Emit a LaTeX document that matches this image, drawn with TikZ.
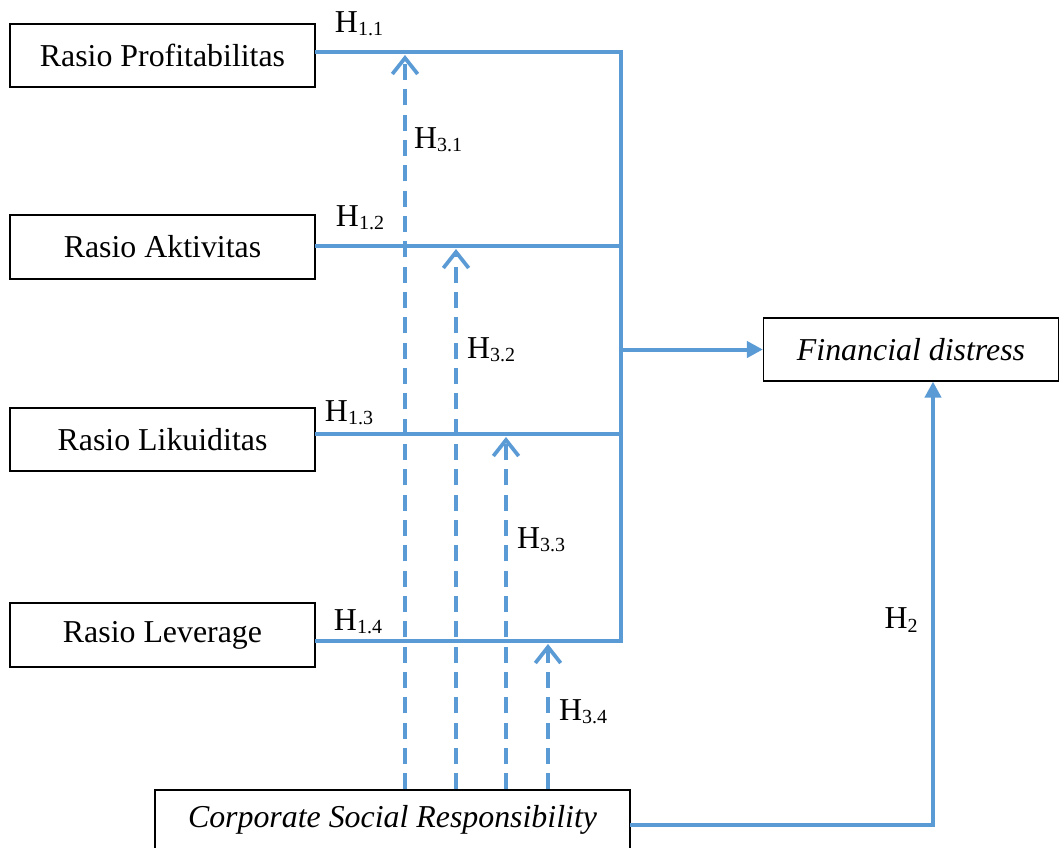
\documentclass[tikz,border=0pt]{standalone}
\usepackage{fontspec}
\setmainfont{Liberation Serif}
\usetikzlibrary{arrows.meta}
\definecolor{lblue}{HTML}{5B9BD5}
\newcommand{\Hsub}[1]{H\raisebox{-2.5pt}{\fontsize{15}{17}\selectfont #1}}
\begin{document}
\begin{tikzpicture}[x=0.75pt,y=-0.75pt,
  box/.style={draw=black,line width=0.9pt,inner sep=0pt,font=\fontsize{23.9}{28}\selectfont},
  conn/.style={draw=lblue,line width=3pt},
  solidarr/.style={conn,-{Triangle[length=12pt,width=12pt]}},
  dasharr/.style={conn,dash pattern=on 12pt off 7pt,-{Straight Barb[length=12pt,width=19pt,line width=2.8pt]}},
  hlab/.style={font=\fontsize{23.9}{28}\selectfont,inner sep=0pt}]
\clip (0,0) rectangle (1059,847);
\fill[white] (0,0) rectangle (1059,847);
% boxes
\node[box,minimum width=228.75pt,minimum height=47.25pt] (p) at (162.5,55.5) {Rasio Profitabilitas};
\node[box,minimum width=228.75pt,minimum height=48pt] (a) at (162.5,247) {Rasio Aktivitas};
\node[box,minimum width=228.75pt,minimum height=47.25pt] (l) at (162.5,439.5) {Rasio Likuiditas};
\node[box,minimum width=228.75pt,minimum height=48pt] (v) at (162.5,635) {Rasio Leverage};
\node[box,minimum width=221.25pt,minimum height=47.25pt] (fd) at (911,349.5) {\itshape Financial distress};
\node[box,minimum width=356.25pt,minimum height=45pt] (csr) at (392.5,820) {\itshape Corporate Social Responsibility};
% coordinates
\coordinate (p1) at (315,52);
\coordinate (a1) at (315,246);
\coordinate (l1) at (315,434);
\coordinate (v1) at (315,641);
\coordinate (jt) at (621,52);
\coordinate (jb) at (621,641);
\coordinate (jm) at (621,349.5);
\coordinate (t1) at (405,55);
\coordinate (t2) at (456,249);
\coordinate (t3) at (506,437);
\coordinate (t4) at (548,644);
\coordinate (c1) at (630,825);
\coordinate (k) at (933,825);
% solid connectors
\draw[conn,line join=miter] (p1) -- (jt) -- (jb) -- (v1);
\draw[conn] (a1) -- (a1 -| jt);
\draw[conn] (l1) -- (l1 -| jt);
\draw[solidarr] (jm) -- (fd.west);
\draw[solidarr,line join=miter] (c1) -- (k) -- (k |- fd.south);
% dashed arrows
\draw[dasharr] (csr.north -| t1) -- (t1);
\draw[dasharr] (csr.north -| t2) -- (t2);
\draw[dasharr] (csr.north -| t3) -- (t3);
\draw[dasharr] (csr.north -| t4) -- (t4);
% labels
\node[hlab] (h11) at (359,24) {\Hsub{1.1}};
\node[hlab] (h12) at (360,218) {\Hsub{1.2}};
\node[hlab] (h13) at (349,413) {\Hsub{1.3}};
\node[hlab] (h14) at (358,622) {\Hsub{1.4}};
\node[hlab] (h31) at (438,140) {\Hsub{3.1}};
\node[hlab] (h32) at (491,350) {\Hsub{3.2}};
\node[hlab] (h33) at (541,540) {\Hsub{3.3}};
\node[hlab] (h34) at (583,712) {\Hsub{3.4}};
\node[hlab] (h2) at (901,620) {\Hsub{2}};
\end{tikzpicture}
\end{document}
